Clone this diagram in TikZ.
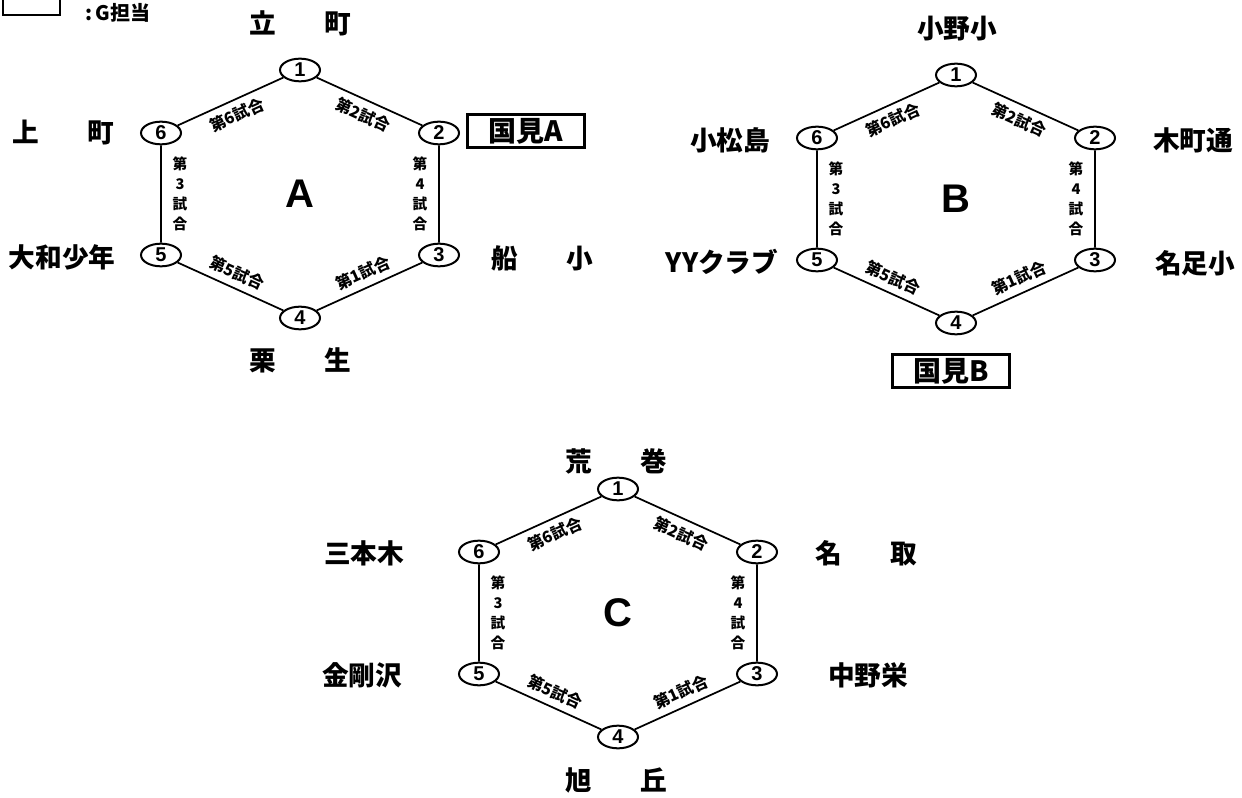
\documentclass[tikz,border=0pt]{standalone}
\usepackage{fontspec}
\setmainfont{Liberation Sans}
\newfontfamily\jp{Noto Sans CJK JP}
\usetikzlibrary{shapes.geometric}

\tikzset{every picture/.style={line width=1.3pt}}
\tikzset{
  num/.style={draw, ellipse, line width=1.5pt, minimum width=30pt, minimum height=17pt, inner sep=0pt, font=\bfseries\fontsize{15}{15}\selectfont},
  grp/.style={font=\bfseries\fontsize{30}{30}\selectfont},
  game/.style={font=\jp\bfseries\fontsize{12}{12}\selectfont, inner sep=0pt},
  gamev/.style={font=\jp\bfseries\fontsize{11}{15}\selectfont, align=center, inner sep=0pt},
  team/.style={font=\jp\bfseries\fontsize{20}{20}\selectfont, inner sep=0pt},
  host/.style={draw, line width=2pt, font=\jp\bfseries\fontsize{21}{21}\selectfont, minimum width=88pt, minimum height=25pt, inner sep=0pt}
}

% one league: name, centre x, centre y, letter
\newcommand{\league}[4]{%
  \begin{scope}[shift={(#2,#3)}]
    \node[num] (#1-1) at (0,-124) {1};
    \node[num] (#1-2) at (139,-61) {2};
    \node[num] (#1-3) at (139,61) {3};
    \node[num] (#1-4) at (0,124) {4};
    \node[num] (#1-5) at (-139,61) {5};
    \node[num] (#1-6) at (-139,-61) {6};
    \node[grp] (#1-c) at (0,0) {#4};
    \draw (#1-1) -- (#1-2) -- (#1-3) -- (#1-4) -- (#1-5) -- (#1-6) -- (#1-1);
    \node[game, rotate=24.4] (#1-g1) at (63,79) {第1試合};
    \node[game, rotate=-24.4] (#1-g2) at (63,-79) {第2試合};
    \node[gamev] (#1-g3) at (-120,0) {第\\3\\試\\合};
    \node[gamev] (#1-g4) at (120,0) {第\\4\\試\\合};
    \node[game, rotate=-24.4] (#1-g5) at (-63,79) {第5試合};
    \node[game, rotate=24.4] (#1-g6) at (-63,-79) {第6試合};
  \end{scope}}

\begin{document}
\begin{tikzpicture}[x=0.75pt,y=0.75pt,yscale=-1,xscale=1]
\useasboundingbox (0,0) rectangle (1242,798);

% legend
\draw[line width=2pt] (3,0) -- (3,15) -- (60,15) -- (60,0);
\node[font=\jp\bfseries\fontsize{15}{15}\selectfont, anchor=west] (key) at (80,13) {:\,G担当};

% leagues
\league{A}{300}{194}{A}
\league{B}{956}{199}{B}
\league{C}{618}{613}{C}

% Group A teams
\node[team] (tatemachi) at (300,23) {立\hspace{1.8em}町};
\node[team] (kamimachi) at (63,133) {上\hspace{1.8em}町};
\node[team] (yamato) at (62,257) {大和少年};
\node[team] (kuriu) at (300,360) {栗\hspace{1.8em}生};
\node[team] (funako) at (542,258) {船\hspace{1.8em}小};
\node[host] (kunimiA) at (526,131) {国見A};

% Group B teams
\node[team] (onoko) at (957,29) {小野小};
\node[team] (komatsu) at (730,140) {小松島};
\node[team] (yy) at (722,262) {YYクラブ};
\node[team] (kimachi) at (1193,140) {木町通};
\node[team] (natariko) at (1195,263) {名足小};
\node[host] (kunimiB) at (951,371) {国見B};

% Group C teams
\node[team] (aramaki) at (616,461) {荒\hspace{1.8em}巻};
\node[team] (sanbongi) at (364,553) {三本木};
\node[team] (natori) at (866,553) {名\hspace{1.8em}取};
\node[team] (kongo) at (362,675) {金剛沢};
\node[team] (nakano) at (868,675) {中野栄};
\node[team] (asahi) at (616,780) {旭\hspace{1.8em}丘};

\end{tikzpicture}
\end{document}
